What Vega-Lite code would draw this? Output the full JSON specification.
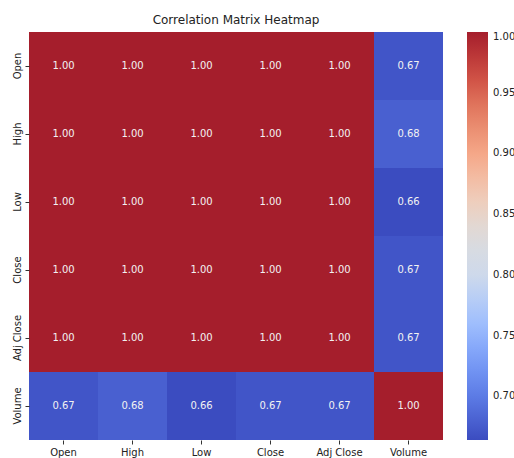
{
  "$schema": "https://vega.github.io/schema/vega-lite/v6.json",
  "width": 414,
  "height": 408,
  "autosize": {"type": "none"},
  "padding": {"left": 29, "top": 32, "right": 71, "bottom": 18},
  "background": "white",
  "title": {"text": "Correlation Matrix Heatmap", "font": "DejaVu Sans", "fontSize": 12, "fontWeight": "normal", "color": "#222", "offset": 5},
  "config": {
    "view": {"stroke": null},
    "font": "DejaVu Sans"
  },
  "data": {
    "values": [
      {"row": "Open", "col": "Open", "value": 1.0},
      {"row": "Open", "col": "High", "value": 1.0},
      {"row": "Open", "col": "Low", "value": 1.0},
      {"row": "Open", "col": "Close", "value": 1.0},
      {"row": "Open", "col": "Adj Close", "value": 1.0},
      {"row": "Open", "col": "Volume", "value": 0.671},
      {"row": "High", "col": "Open", "value": 1.0},
      {"row": "High", "col": "High", "value": 1.0},
      {"row": "High", "col": "Low", "value": 1.0},
      {"row": "High", "col": "Close", "value": 1.0},
      {"row": "High", "col": "Adj Close", "value": 1.0},
      {"row": "High", "col": "Volume", "value": 0.679},
      {"row": "Low", "col": "Open", "value": 1.0},
      {"row": "Low", "col": "High", "value": 1.0},
      {"row": "Low", "col": "Low", "value": 1.0},
      {"row": "Low", "col": "Close", "value": 1.0},
      {"row": "Low", "col": "Adj Close", "value": 1.0},
      {"row": "Low", "col": "Volume", "value": 0.664},
      {"row": "Close", "col": "Open", "value": 1.0},
      {"row": "Close", "col": "High", "value": 1.0},
      {"row": "Close", "col": "Low", "value": 1.0},
      {"row": "Close", "col": "Close", "value": 1.0},
      {"row": "Close", "col": "Adj Close", "value": 1.0},
      {"row": "Close", "col": "Volume", "value": 0.671},
      {"row": "Adj Close", "col": "Open", "value": 1.0},
      {"row": "Adj Close", "col": "High", "value": 1.0},
      {"row": "Adj Close", "col": "Low", "value": 1.0},
      {"row": "Adj Close", "col": "Close", "value": 1.0},
      {"row": "Adj Close", "col": "Adj Close", "value": 1.0},
      {"row": "Adj Close", "col": "Volume", "value": 0.671},
      {"row": "Volume", "col": "Open", "value": 0.671},
      {"row": "Volume", "col": "High", "value": 0.679},
      {"row": "Volume", "col": "Low", "value": 0.664},
      {"row": "Volume", "col": "Close", "value": 0.671},
      {"row": "Volume", "col": "Adj Close", "value": 0.671},
      {"row": "Volume", "col": "Volume", "value": 1.0}
    ]
  },
  "encoding": {
    "x": {
      "field": "col", "type": "nominal",
      "sort": ["Open", "High", "Low", "Close", "Adj Close", "Volume"],
      "scale": {"paddingInner": 0, "paddingOuter": 0},
      "axis": {"title": null, "labelAngle": 0, "domain": false, "grid": false, "tickSize": 4, "tickColor": "#333", "labelColor": "#222", "labelFont": "DejaVu Sans", "labelFontSize": 10, "labelPadding": 3}
    },
    "y": {
      "field": "row", "type": "nominal",
      "sort": ["Open", "High", "Low", "Close", "Adj Close", "Volume"],
      "scale": {"paddingInner": 0, "paddingOuter": 0},
      "axis": {"title": null, "labelAngle": -90, "labelAlign": "center", "labelBaseline": "bottom", "domain": false, "grid": false, "tickSize": 4, "tickColor": "#333", "labelColor": "#222", "labelFont": "DejaVu Sans", "labelFontSize": 10, "labelPadding": 3}
    }
  },
  "layer": [
    {
      "mark": {"type": "rect"},
      "encoding": {
        "color": {
          "field": "value", "type": "quantitative",
          "scale": {
            "domain": [0.664, 1.0],
            "range": ["#3b4cc0", "#5a78e4", "#7b9ff9", "#a5c3fe", "#cdd9ec", "#dddcdc", "#f2cbb7", "#f5a889", "#e57f64", "#cc4a40", "#a51e2c"],
            "interpolate": "rgb"
          },
          "legend": {
            "title": null,
            "orient": "right",
            "offset": 24,
            "direction": "vertical",
            "gradientLength": 408,
            "gradientThickness": 21,
            "gradientStrokeWidth": 0,
            "values": [0.70, 0.75, 0.80, 0.85, 0.90, 0.95, 1.00],
            "format": ".2f",
            "labelBaseline": "middle",
            "labelFont": "DejaVu Sans",
            "labelFontSize": 10,
            "labelColor": "#222",
            "labelOffset": 5,
            "padding": 0
          }
        }
      }
    },
    {
      "mark": {"type": "text", "font": "DejaVu Sans", "fontSize": 10, "color": "#f2f2f2"},
      "encoding": {
        "text": {"field": "value", "type": "quantitative", "format": ".2f"}
      }
    }
  ]
}
